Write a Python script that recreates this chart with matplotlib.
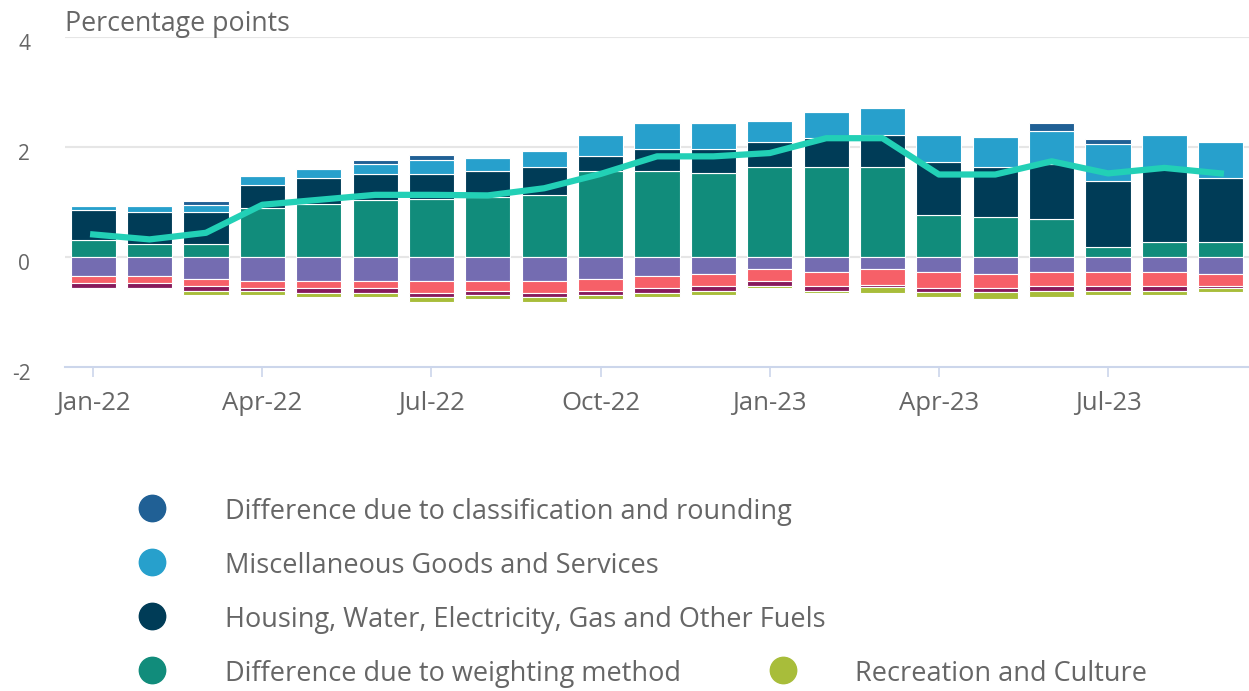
import matplotlib
matplotlib.use("Agg")
from matplotlib import pyplot as plt
from matplotlib.transforms import ScaledTranslation
import numpy as np

plt.rcParams['font.family'] = ['Open Sans', 'DejaVu Sans']

months = ["Jan-22", "Feb-22", "Mar-22", "Apr-22", "May-22", "Jun-22", "Jul-22",
          "Aug-22", "Sep-22", "Oct-22", "Nov-22", "Dec-22", "Jan-23", "Feb-23",
          "Mar-23", "Apr-23", "May-23", "Jun-23", "Jul-23", "Aug-23", "Sep-23"]

# positive contributions (stacked up from zero)
weighting = [0.31, 0.23, 0.23, 0.89, 0.97, 1.03, 1.06, 1.09, 1.13, 1.56, 1.56,
             1.52, 1.64, 1.64, 1.64, 0.77, 0.73, 0.69, 0.19, 0.27, 0.27]
housing = [0.54, 0.58, 0.58, 0.42, 0.46, 0.48, 0.45, 0.47, 0.50, 0.28, 0.41,
           0.45, 0.46, 0.53, 0.58, 0.96, 0.91, 1.01, 1.20, 1.33, 1.16]
misc = [0.08, 0.12, 0.13, 0.16, 0.17, 0.18, 0.25, 0.24, 0.30, 0.38, 0.46,
        0.46, 0.37, 0.46, 0.49, 0.49, 0.54, 0.60, 0.66, 0.62, 0.67]
classification = [0, 0, 0.08, 0, 0, 0.07, 0.09, 0, 0, 0, 0,
                  0, 0, 0, 0, 0, 0, 0.13, 0.09, 0, 0]

# negative contributions (stacked down from zero)
neg_purple = [-0.35, -0.35, -0.40, -0.44, -0.44, -0.44, -0.44, -0.44, -0.44, -0.40, -0.35,
              -0.31, -0.22, -0.27, -0.22, -0.27, -0.31, -0.27, -0.27, -0.27, -0.31]
neg_pink = [-0.13, -0.13, -0.12, -0.12, -0.12, -0.12, -0.21, -0.17, -0.21, -0.21, -0.21,
            -0.21, -0.22, -0.25, -0.29, -0.29, -0.25, -0.25, -0.25, -0.25, -0.21]
neg_maroon = [-0.08, -0.08, -0.09, -0.05, -0.09, -0.09, -0.08, -0.08, -0.08, -0.08, -0.09,
              -0.09, -0.08, -0.09, -0.04, -0.08, -0.08, -0.09, -0.09, -0.09, -0.04]
recreation = [-0.03, -0.03, -0.08, -0.08, -0.08, -0.08, -0.08, -0.08, -0.08, -0.08, -0.08,
              -0.08, -0.04, -0.04, -0.10, -0.08, -0.12, -0.12, -0.08, -0.08, -0.08]

# total (line)
total = [0.41, 0.32, 0.44, 0.95, 1.04, 1.13, 1.13, 1.12, 1.25, 1.51, 1.83,
         1.83, 1.89, 2.16, 2.16, 1.50, 1.50, 1.74, 1.52, 1.62, 1.52]

tick_labels = ["Jan-22", "Apr-22", "Jul-22", "Oct-22", "Jan-23", "Apr-23", "Jul-23"]

grey = "#666666"

fig = plt.figure(figsize=(12.49, 6.91), dpi=100)
ax = fig.add_axes([65 / 1249, 1 - 367 / 691, 1 - 65 / 1249, (367 - 37) / 691])

x = np.arange(len(months))
w = 0.8
edge = dict(edgecolor="white", linewidth=0.8)

pos_series = [(weighting, "#118c7b"), (housing, "#003c57"),
              (misc, "#27a0cc"), (classification, "#206095")]
bottom = np.zeros(len(x))
for vals, col in pos_series:
    ax.bar(x, vals, w, bottom=bottom, color=col, zorder=2, **edge)
    bottom += np.array(vals)

neg_series = [(neg_purple, "#746cb1"), (neg_pink, "#f66068"),
              (neg_maroon, "#871a5b"), (recreation, "#a8bd3a")]
bottom = np.zeros(len(x))
for vals, col in neg_series:
    ax.bar(x, vals, w, bottom=bottom, color=col, zorder=2, **edge)
    bottom += np.array(vals)

ax.plot(x, total, color="#22d0b6", linewidth=4.5, zorder=3, solid_joinstyle="round")

ax.set_xlim(-0.5, 20.5)
ax.set_ylim(-2, 4)
ax.set_yticks([-2, 0, 2, 4])
ax.set_yticklabels(["-2", "0", "2", "4"])
for yv in [0, 2, 4]:
    ax.axhline(yv, color="#e6e6e6", linewidth=1.5, zorder=1)

ax.set_xticks(x[::3])
ax.set_xticklabels(tick_labels)
for s in ["top", "right", "left"]:
    ax.spines[s].set_visible(False)
ax.spines["bottom"].set_color("#ccd6eb")
ax.spines["bottom"].set_linewidth(1.5)
ax.tick_params(axis="x", length=7.5, width=1.2, color="#ccd6eb", pad=10,
               labelsize=18.5, labelcolor=grey)
ax.tick_params(axis="y", length=0, pad=25, labelsize=15, labelcolor=grey)
for lab in ax.get_yticklabels():
    lab.set_transform(lab.get_transform() + ScaledTranslation(0, -5 / 100, fig.dpi_scale_trans))

fig.text(65 / 1249, 1 - 31 / 691, "Percentage points", fontsize=19.3, color=grey,
         va="baseline", ha="left")

# legend (only the visible part)
lax = fig.add_axes([0, 0, 1, 1])
lax.set_xlim(0, 1249)
lax.set_ylim(691, 0)
lax.axis("off")
legend_items = [
    (152, 225, 508, "Difference due to classification and rounding", "#206095"),
    (152, 225, 562, "Miscellaneous Goods and Services", "#27a0cc"),
    (152, 225, 616, "Housing, Water, Electricity, Gas and Other Fuels", "#003c57"),
    (152, 225, 670, "Difference due to weighting method", "#118c7b"),
    (783, 855, 670, "Recreation and Culture", "#a8bd3a"),
]
for mx, tx, yy, label, col in legend_items:
    lax.plot([mx], [yy], "o", markersize=19, color=col)
    lax.text(tx, yy + 4, label, fontsize=19.5, color=grey, va="center", ha="left")

fig.savefig("out.png", dpi=100)
